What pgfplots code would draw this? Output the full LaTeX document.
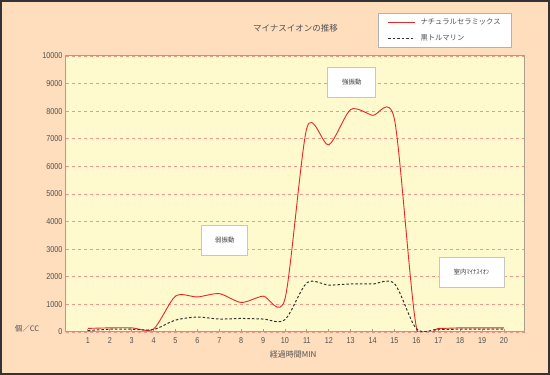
\documentclass[border=0pt]{standalone}
\usepackage{pgfplots}
\pgfplotsset{compat=1.18}
\usepackage{fontspec}
\setmainfont{Noto Sans CJK JP}
\newfontfamily\numfont[FakeStretch=0.85]{Liberation Sans}
\definecolor{peach}{RGB}{255,222,189}
\definecolor{plotbg}{RGB}{255,250,205}
\definecolor{axgray}{RGB}{168,160,140}
\definecolor{txt}{RGB}{80,80,80}
\definecolor{gridred}{RGB}{240,150,140}
\definecolor{curvered}{RGB}{232,40,40}
\begin{document}
\begin{tikzpicture}[x=1pt,y=1pt]
\fill[black!80] (0,0) rectangle (550,375);
\fill[peach] (2,2) rectangle (548,373);
\path[use as bounding box] (0,0) rectangle (550,375);
\begin{axis}[
  at={(66pt,43pt)}, anchor=south west,
  scale only axis, width=459pt, height=276pt,
  xmin=0, xmax=20.96, ymin=0, ymax=10000,
  axis background/.style={fill=plotbg},
  axis line style={axgray, line width=1pt},
  xtick={1,...,20}, ytick={0,1000,...,10000},
  ymajorgrids, grid style={gridred, dash pattern=on 3pt off 3pt, line width=0.6pt},
  tick align=inside, major tick length=3pt,
  xtick pos=bottom, ytick pos=left,
  ytick style={draw=none},
  xtick style={axgray, line width=0.8pt},
  ticklabel style={font=\numfont\fontsize{8.5}{10}\selectfont, text=txt},
  xticklabel style={yshift=-2pt},
  /pgf/number format/assume math mode=true,
  scaled y ticks=false,
  yticklabel style={/pgf/number format/.cd, 1000 sep={}},
  title={マイナスイオンの推移},
  title style={at={(axis description cs:0.5,1.079)}, anchor=center, font=\fontsize{8.5}{10}\selectfont, text=txt},
  xlabel={経過時間MIN},
  xlabel style={at={(axis description cs:0.495,-0.08)}, anchor=center, font=\fontsize{8}{10}\selectfont, text=txt},
  ylabel={個／CC},
  ylabel style={at={(axis description cs:-0.085,0.011)}, anchor=center, rotate=-90, font=\fontsize{7.5}{9}\selectfont, text=txt},
  legend style={at={(axis description cs:0.680,1.156)}, anchor=north west,
    draw=gray!60, fill=white, line width=0.8pt,
    font=\fontsize{7.3}{8}\selectfont,
    inner xsep=9pt, inner ysep=3.5pt, row sep=4.5pt, column sep=3pt, cells={anchor=west}},
  legend image code/.code={\draw[#1] (0pt,0pt) -- (27pt,0pt);},
]
\addplot[draw=curvered, line width=0.9pt, smooth, tension=0.45] coordinates {
(1,130) (2,150) (3,150) (4,110) (5,1300) (6,1270) (7,1390) (8,1070) (9,1300) (10,1200)
(11,7400) (12,6780) (13,8060) (14,7850) (15,7700) (16,180) (17,130) (18,150) (19,150) (20,150)};
\addlegendentry{\color{txt}ナチュラルセラミックス}
\addplot[draw=black!80, line width=1pt, dash pattern=on 2.5pt off 2pt, smooth, tension=0.5] coordinates {
(1,50) (2,100) (3,100) (4,90) (5,430) (6,540) (7,470) (8,490) (9,470) (10,450)
(11,1780) (12,1700) (13,1740) (14,1740) (15,1750) (16,120) (17,100) (18,100) (19,100) (20,100)};
\addlegendentry{\color{txt}黒トルマリン}
\node[draw=gray!45, line width=1pt, fill=white, minimum width=48pt, minimum height=30pt, font=\fontsize{6.5}{8}\selectfont, text=black!75] at (axis cs:13.06,9048) {強振動};
\node[draw=gray!45, line width=1pt, fill=white, minimum width=46pt, minimum height=30pt, font=\fontsize{6.5}{8}\selectfont, text=black!75] at (axis cs:7.26,3330) {弱振動};
\node[draw=gray!45, line width=1pt, fill=white, minimum width=65pt, minimum height=30pt, font=\fontsize{6.5}{8}\selectfont, text=black!75] at (axis cs:18.52,2172) {室内ﾏｲﾅｽｲｵﾝ};
\end{axis}
\end{tikzpicture}
\end{document}
